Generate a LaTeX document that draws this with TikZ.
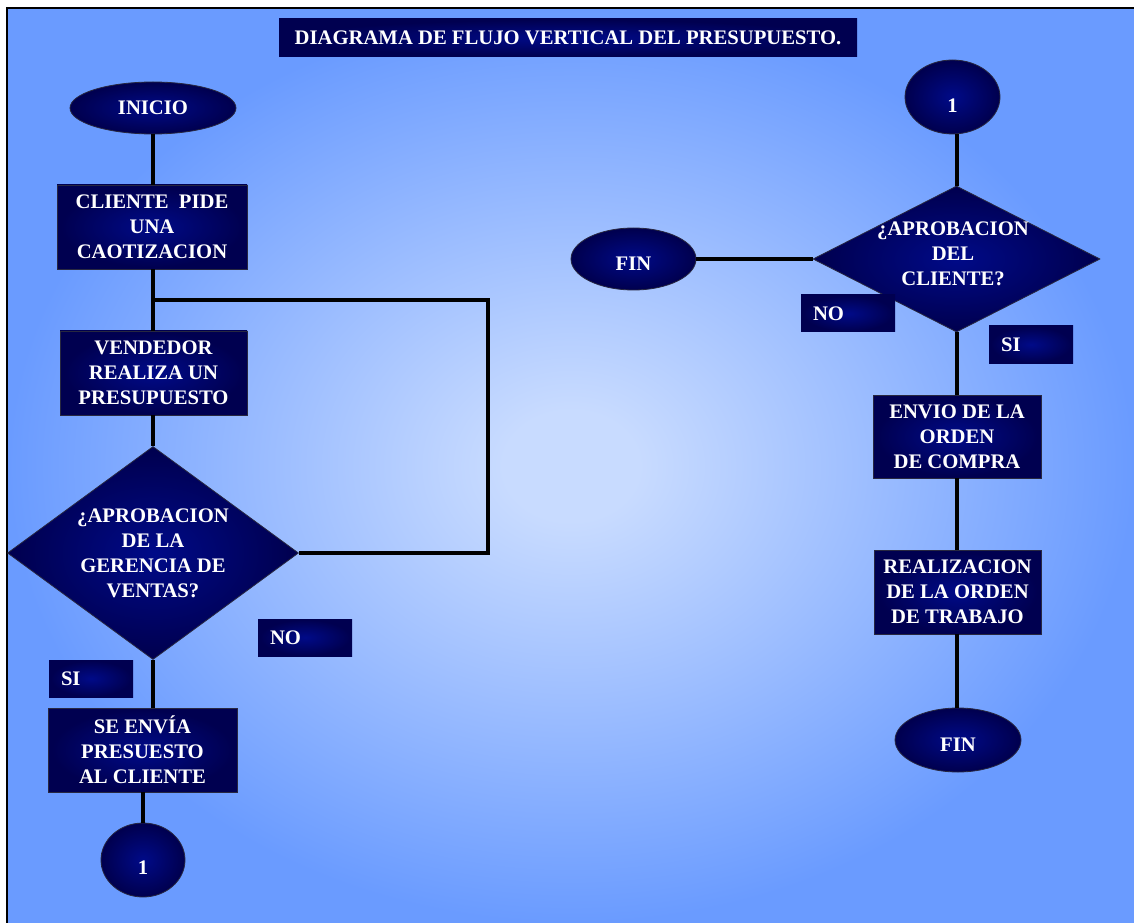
\documentclass[tikz,border=0pt]{standalone}
\usepackage{fontspec}
\setmainfont{Liberation Serif}
\usetikzlibrary{shapes.geometric}

\definecolor{bgin}{RGB}{200,219,255}
\definecolor{bgout}{RGB}{106,155,255}
\definecolor{navyin}{RGB}{0,10,136}
\definecolor{navyout}{RGB}{0,0,80}
\definecolor{rim}{RGB}{40,40,64}

% soft light-blue backdrop, brighter towards the middle
% (the path's box covers the inner 50bp square of the shading)
\pgfdeclareradialshading{bgshade}{\pgfpoint{0bp}{0bp}}{color(0bp)=(bgin); color(3bp)=(bgin); color(25bp)=(bgout); color(50bp)=(bgout)}
% navy fill of every shape, a little brighter in its centre
\pgfdeclareradialshading{navyshade}{\pgfpoint{0bp}{0bp}}{color(0bp)=(navyin); color(24bp)=(navyout); color(50bp)=(navyout)}

\begin{document}
\begin{tikzpicture}[x=0.75pt, y=-0.75pt,
  txt/.style={text=white, font=\fontsize{15.5}{18.75}\selectfont\bfseries, align=center, inner sep=0pt},
  shapebase/.style={txt, shade, shading=navyshade, draw=rim, line width=0.6pt},
  stepbox/.style={shapebase, rectangle},
  term/.style={shapebase, ellipse},
  decision/.style={shapebase, diamond},
  tag/.style={shapebase, rectangle, draw=none, align=left, inner xsep=9pt, minimum height=27.75pt},
  link/.style={line width=3pt, black}]

\useasboundingbox (0,0) rectangle (1134,923);

% backdrop and its frame
\shade[shading=bgshade] (8,9) rectangle (1134,923);
\draw[line width=1.2pt] (7,923) -- (7,8) -- (1134,8);

% heading
\node[stepbox, draw=none, minimum width=433.5pt, minimum height=28.5pt] (title) at (568,38)
  {DIAGRAMA DE FLUJO VERTICAL DEL PRESUPUESTO.};

% ---------- left column ----------
\node[term, minimum width=124.5pt, minimum height=39pt] (inicio) at (153,108) {INICIO};
\node[stepbox, minimum width=142.5pt, minimum height=63pt] (cliente) at (152,227)
  {CLIENTE \ PIDE\\UNA\\CAOTIZACION};
\node[stepbox, minimum width=140.25pt, minimum height=63pt] (vendedor) at (153.5,373)
  {VENDEDOR\\REALIZA UN\\PRESUPUESTO};
\node[decision, minimum width=218.25pt, minimum height=159.75pt] (gerencia) at (153,553) {};
\node[txt] (gerenciaT) at (153,553) {¿APROBACION\\DE LA\\GERENCIA DE\\VENTAS?};
\node[tag, minimum width=70.5pt, text width=52.5pt] (no1) at (305,637.5) {NO};
\node[tag, minimum width=63pt, text width=45pt] (si1) at (91,678.5) {SI};
\node[stepbox, minimum width=141.75pt, minimum height=63pt] (envia) at (142.5,750)
  {SE ENVÍA\\PRESUESTO\\AL CLIENTE};
\node[term, minimum width=63pt, minimum height=55.5pt] (uno) at (143,860) {};
\node[txt] (unoT) at (143,868) {1};

% ---------- right column ----------
\node[term, minimum width=71.25pt, minimum height=55.5pt] (dos) at (952.5,97) {};
\node[txt] (dosT) at (952.5,106) {1};
\node[decision, minimum width=215.25pt, minimum height=109.5pt] (aprob) at (956.5,259) {};
\node[txt] (aprobT) at (953,254) {¿APROBACION\\DEL\\CLIENTE?};
\node[term, minimum width=93.75pt, minimum height=46.5pt] (fin1) at (633.5,259) {};
\node[txt] (fin1T) at (633.5,264) {FIN};
\node[tag, minimum width=70.5pt, text width=52.5pt] (no2) at (848,313.5) {NO};
\node[tag, minimum width=63pt, text width=45pt] (si2) at (1031,344.5) {SI};
\node[stepbox, minimum width=126pt, minimum height=62.25pt] (envio) at (957,436.5)
  {ENVIO DE LA\\ORDEN\\DE COMPRA};
\node[stepbox, minimum width=125.25pt, minimum height=63pt] (realiza) at (957.5,592)
  {REALIZACION\\DE LA ORDEN\\DE TRABAJO};
\node[term, minimum width=94.5pt, minimum height=48pt] (fin2) at (958,740) {};
\node[txt] (fin2T) at (958,745) {FIN};

% ---------- connectors ----------
\coordinate (split) at (153,300);
\coordinate (loop) at (488,300);

\draw[link] (inicio.south) -- (inicio.south |- cliente.north);
\draw[link] (cliente.south -| split) -- (vendedor.north -| split);
\draw[link] (split) -- (loop) |- (gerencia.east);
\draw[link] (vendedor.south -| gerencia.north) -- (gerencia.north);
\draw[link] (gerencia.south) -- (gerencia.south |- envia.north);
\draw[link] (envia.south -| uno.north) -- (uno.north);

\draw[link] (dos.south -| aprob.north) -- (aprob.north);
\draw[link] (fin1.east) -- (aprob.west);
\draw[link] (aprob.south) -- (aprob.south |- envio.north);
\draw[link] (envio.south -| aprob.south) -- (realiza.north -| aprob.south);
\draw[link] (realiza.south -| aprob.south) -- (fin2.north -| aprob.south);
\end{tikzpicture}
\end{document}
